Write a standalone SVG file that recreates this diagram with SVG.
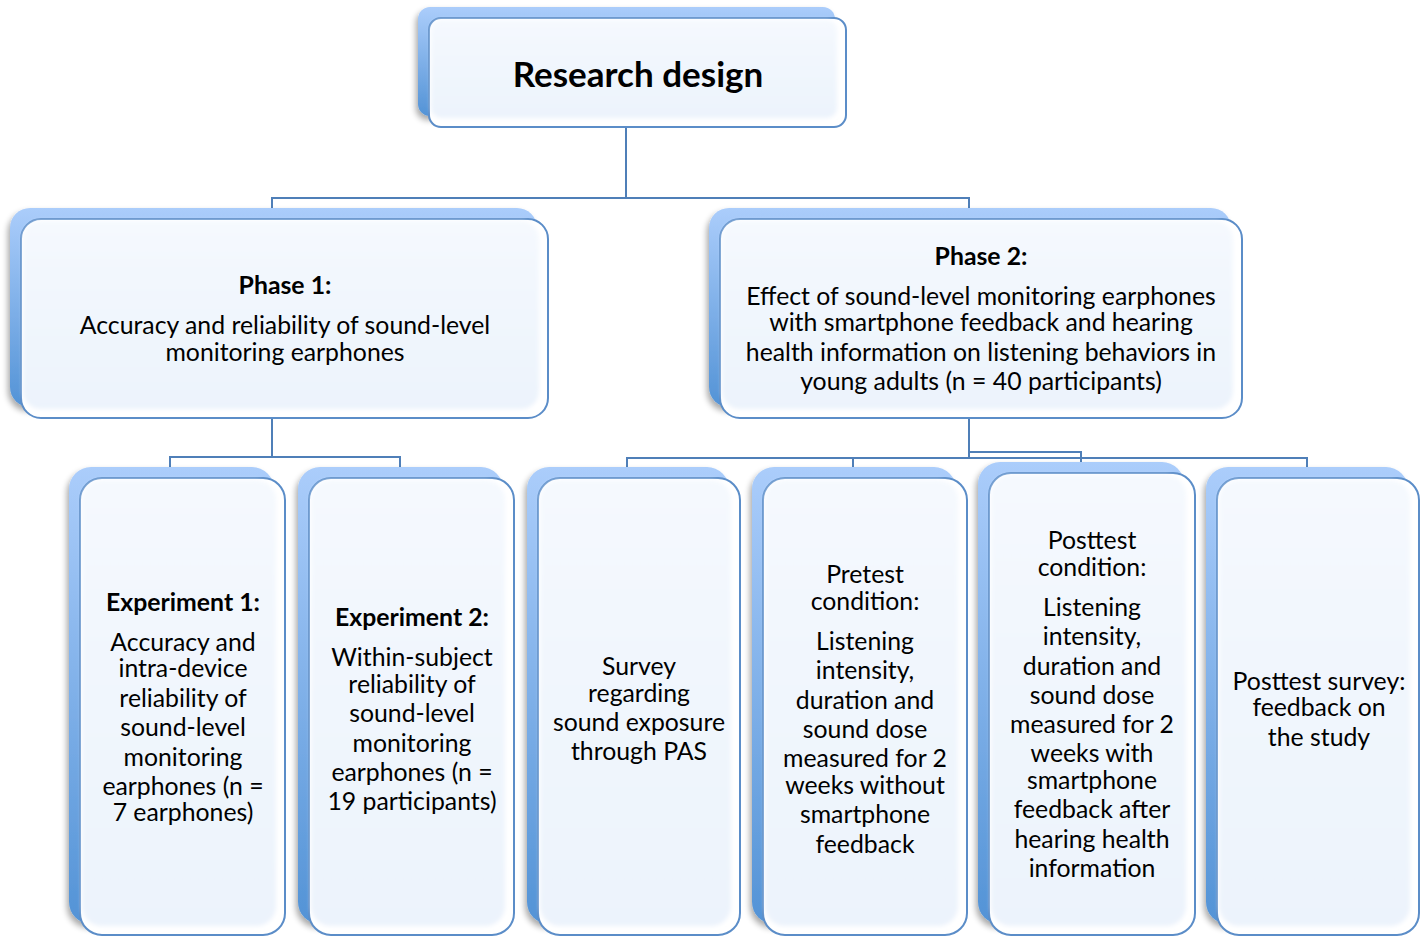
<svg xmlns="http://www.w3.org/2000/svg" width="1425" height="936" viewBox="0 0 1425 936">
  <defs>
    <linearGradient id="backGrad" x1="0" y1="0" x2="0" y2="1">
      <stop offset="0" stop-color="#abcdfb"/>
      <stop offset="1" stop-color="#5393d6"/>
    </linearGradient>
    <linearGradient id="faceGrad" x1="0" y1="0" x2="0" y2="1">
      <stop offset="0" stop-color="#f5f9fe"/>
      <stop offset="1" stop-color="#ecf3fc"/>
    </linearGradient>
    <filter id="shadow" x="-10%" y="-10%" width="120%" height="120%">
      <feGaussianBlur in="SourceAlpha" stdDeviation="3"/>
      <feOffset dx="-2" dy="4"/>
      <feComponentTransfer><feFuncA type="linear" slope="0.35"/></feComponentTransfer>
      <feMerge><feMergeNode/><feMergeNode in="SourceGraphic"/></feMerge>
    </filter>
    <filter id="soft" x="-5%" y="-5%" width="110%" height="110%">
      <feGaussianBlur stdDeviation="2"/>
    </filter>
  </defs>
  <style>
    .back { fill: url(#backGrad); filter: url(#shadow); }
    .face { fill: #ffffff; stroke: #5b8dc8; stroke-width: 2; }
    .inner { fill: url(#faceGrad); filter: url(#soft); }
    .wire { fill: none; stroke: #4f7fb8; stroke-width: 2; }
    text { font-family: Lato, "Liberation Sans", sans-serif; fill: #000; text-anchor: middle; }
    .title { font-size: 35px; font-weight: bold; }
    .t { font-size: 24.8px; }
    .b { font-size: 24.8px; font-weight: bold; }
  </style>

  <!-- tree connectors, drawn first so the cards sit on top -->
  <g id="connectors" class="wire">
    <path d="M626,127 V198 M272,212 V198 H969 V212"/>
    <path d="M272,418 V457 M170,470 V457 H400 V470"/>
    <path d="M969,418 V458 M627,470 V458 H1307 V470 M853,458 V470"/>
    <path d="M969,452 H1081 V465"/>
  </g>

  <g id="root">
    <rect class="back" x="418" y="7" width="417" height="109" rx="12"/>
    <rect class="face" x="429" y="18" width="417" height="109" rx="12"/>
    <rect class="inner" x="431" y="20" width="406" height="98" rx="10"/>
    <text class="title" x="638" y="87">Research design</text>
  </g>

  <g id="phase1">
    <rect class="back" x="10" y="208" width="527" height="199" rx="20"/>
    <rect class="face" x="21" y="219" width="527" height="199" rx="20"/>
    <rect class="inner" x="23" y="221" width="516" height="188" rx="18"/>
    <text class="b" x="285" y="294">Phase 1:</text>
    <text class="t" x="285" y="334">Accuracy and reliability of sound-level</text>
    <text class="t" x="285" y="361">monitoring earphones</text>
  </g>

  <g id="phase2">
    <rect class="back" x="709" y="208" width="522" height="199" rx="20"/>
    <rect class="face" x="720" y="219" width="522" height="199" rx="20"/>
    <rect class="inner" x="722" y="221" width="511" height="188" rx="18"/>
    <text class="b" x="981" y="265">Phase 2:</text>
    <text class="t" x="981" y="305">Effect of sound-level monitoring earphones</text>
    <text class="t" x="981" y="331">with smartphone feedback and hearing</text>
    <text class="t" x="981" y="361">health information on listening behaviors in</text>
    <text class="t" x="981" y="390">young adults (n = 40 participants)</text>
  </g>

  <g id="experiment1">
    <rect class="back" x="69" y="467" width="205" height="457" rx="22"/>
    <rect class="face" x="80" y="478" width="205" height="457" rx="22"/>
    <rect class="inner" x="82" y="480" width="194" height="446" rx="20"/>
    <text class="b" x="183" y="611">Experiment 1:</text>
    <text class="t" x="183" y="651">Accuracy and</text>
    <text class="t" x="183" y="677">intra-device</text>
    <text class="t" x="183" y="707">reliability of</text>
    <text class="t" x="183" y="736">sound-level</text>
    <text class="t" x="183" y="766">monitoring</text>
    <text class="t" x="183" y="795">earphones (n =</text>
    <text class="t" x="183" y="821">7 earphones)</text>
  </g>

  <g id="experiment2">
    <rect class="back" x="298" y="467" width="205" height="457" rx="22"/>
    <rect class="face" x="309" y="478" width="205" height="457" rx="22"/>
    <rect class="inner" x="311" y="480" width="194" height="446" rx="20"/>
    <text class="b" x="412" y="626">Experiment 2:</text>
    <text class="t" x="412" y="666">Within-subject</text>
    <text class="t" x="412" y="693">reliability of</text>
    <text class="t" x="412" y="722">sound-level</text>
    <text class="t" x="412" y="752">monitoring</text>
    <text class="t" x="412" y="781">earphones (n =</text>
    <text class="t" x="412" y="810">19 participants)</text>
  </g>

  <g id="survey">
    <rect class="back" x="527" y="467" width="202" height="457" rx="22"/>
    <rect class="face" x="538" y="478" width="202" height="457" rx="22"/>
    <rect class="inner" x="540" y="480" width="191" height="446" rx="20"/>
    <text class="t" x="639" y="675">Survey</text>
    <text class="t" x="639" y="702">regarding</text>
    <text class="t" x="639" y="731">sound exposure</text>
    <text class="t" x="639" y="760">through PAS</text>
  </g>

  <g id="pretest">
    <rect class="back" x="752" y="467" width="204" height="457" rx="22"/>
    <rect class="face" x="763" y="478" width="204" height="457" rx="22"/>
    <rect class="inner" x="765" y="480" width="193" height="446" rx="20"/>
    <text class="t" x="865" y="583">Pretest</text>
    <text class="t" x="865" y="610">condition:</text>
    <text class="t" x="865" y="650">Listening</text>
    <text class="t" x="865" y="679">intensity,</text>
    <text class="t" x="865" y="709">duration and</text>
    <text class="t" x="865" y="738">sound dose</text>
    <text class="t" x="865" y="767">measured for 2</text>
    <text class="t" x="865" y="794">weeks without</text>
    <text class="t" x="865" y="823">smartphone</text>
    <text class="t" x="865" y="853">feedback</text>
  </g>

  <g id="posttest">
    <rect class="back" x="978" y="462" width="206" height="462" rx="22"/>
    <rect class="face" x="989" y="473" width="206" height="462" rx="22"/>
    <rect class="inner" x="991" y="475" width="195" height="451" rx="20"/>
    <text class="t" x="1092" y="549">Posttest</text>
    <text class="t" x="1092" y="576">condition:</text>
    <text class="t" x="1092" y="616">Listening</text>
    <text class="t" x="1092" y="645">intensity,</text>
    <text class="t" x="1092" y="675">duration and</text>
    <text class="t" x="1092" y="704">sound dose</text>
    <text class="t" x="1092" y="733">measured for 2</text>
    <text class="t" x="1092" y="762">weeks with</text>
    <text class="t" x="1092" y="789">smartphone</text>
    <text class="t" x="1092" y="818">feedback after</text>
    <text class="t" x="1092" y="848">hearing health</text>
    <text class="t" x="1092" y="877">information</text>
  </g>

  <g id="posttest-survey">
    <rect class="back" x="1206" y="467" width="202" height="457" rx="22"/>
    <rect class="face" x="1217" y="478" width="202" height="457" rx="22"/>
    <rect class="inner" x="1219" y="480" width="191" height="446" rx="20"/>
    <text class="t" x="1319" y="690">Posttest survey:</text>
    <text class="t" x="1319" y="716">feedback on</text>
    <text class="t" x="1319" y="746">the study</text>
  </g>
</svg>
